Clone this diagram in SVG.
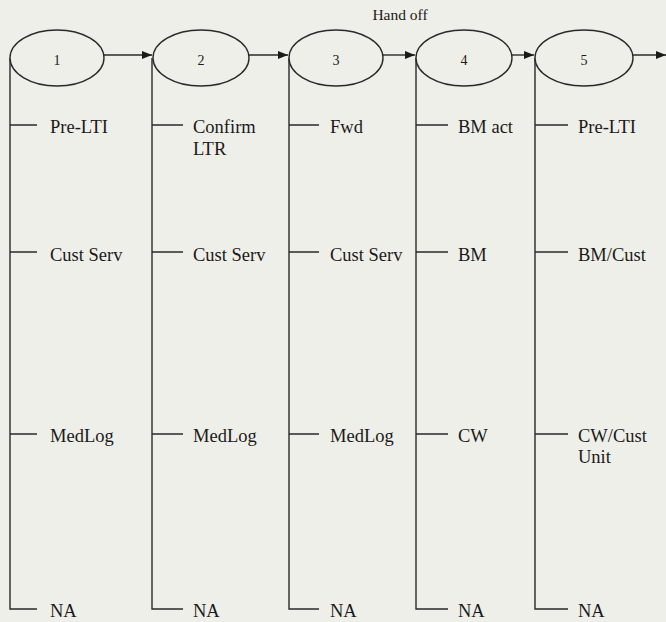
<svg xmlns="http://www.w3.org/2000/svg" width="666" height="622" viewBox="0 0 666 622">
<style>
.ln{stroke:#2a2a2a;stroke-width:1.4;fill:none}
.el{stroke:#2a2a2a;stroke-width:1.4;fill:#efefe9}
.t{font-family:"Liberation Serif","Times New Roman",serif;font-size:18.5px;fill:#1a1a1a}
.n{font-family:"Liberation Serif","Times New Roman",serif;font-size:14px;fill:#1a1a1a;text-anchor:middle}
.h{font-family:"Liberation Serif","Times New Roman",serif;font-size:15.5px;fill:#1a1a1a;text-anchor:middle}
</style>
<defs>
<marker id="ah" markerWidth="10" markerHeight="8" refX="10" refY="4" orient="auto" markerUnits="userSpaceOnUse">
<path d="M0,0 L10,4 L0,8 Z" fill="#1a1a1a"/>
</marker>
</defs>
<rect width="666" height="622" fill="#efefe9"/>
<text class="h" x="400" y="20">Hand off</text>
<g id="connectors">
<line class="ln" x1="104" y1="55" x2="152" y2="55" marker-end="url(#ah)"/>
<line class="ln" x1="249" y1="55" x2="288" y2="55" marker-end="url(#ah)"/>
<line class="ln" x1="383" y1="55" x2="415" y2="55" marker-end="url(#ah)"/>
<line class="ln" x1="512" y1="55" x2="534" y2="55" marker-end="url(#ah)"/>
<line class="ln" x1="633" y1="55" x2="666" y2="55" marker-end="url(#ah)"/>
</g>
<g id="node1">
<path class="ln" d="M10,58 V609 H37 M10,125 H37 M10,252 H37 M10,434 H37"/>
<ellipse class="el" cx="57" cy="58" rx="47" ry="28"/>
<text class="n" x="57" y="65">1</text>
<text class="t" x="50" y="133">Pre-LTI</text>
<text class="t" x="50" y="261">Cust Serv</text>
<text class="t" x="50" y="442">MedLog</text>
<text class="t" x="50" y="617">NA</text>
</g>
<g id="node2">
<path class="ln" d="M152,58 V609 H183 M152,125 H183 M152,252 H183 M152,434 H183"/>
<ellipse class="el" cx="201" cy="58" rx="48" ry="28"/>
<text class="n" x="201" y="65">2</text>
<text class="t" x="193" y="133">Confirm</text>
<text class="t" x="193" y="155">LTR</text>
<text class="t" x="193" y="261">Cust Serv</text>
<text class="t" x="193" y="442">MedLog</text>
<text class="t" x="193" y="617">NA</text>
</g>
<g id="node3">
<path class="ln" d="M289,58 V609 H319 M289,125 H319 M289,252 H319 M289,434 H319"/>
<ellipse class="el" cx="336" cy="58" rx="47" ry="28"/>
<text class="n" x="336" y="65">3</text>
<text class="t" x="330" y="133">Fwd</text>
<text class="t" x="330" y="261">Cust Serv</text>
<text class="t" x="330" y="442">MedLog</text>
<text class="t" x="330" y="617">NA</text>
</g>
<g id="node4">
<path class="ln" d="M416,58 V609 H448 M416,125 H448 M416,252 H448 M416,434 H448"/>
<ellipse class="el" cx="464" cy="58" rx="48" ry="28"/>
<text class="n" x="464" y="65">4</text>
<text class="t" x="458" y="133">BM act</text>
<text class="t" x="458" y="261">BM</text>
<text class="t" x="458" y="442">CW</text>
<text class="t" x="458" y="617">NA</text>
</g>
<g id="node5">
<path class="ln" d="M535,58 V609 H568 M535,125 H568 M535,252 H568 M535,434 H568"/>
<ellipse class="el" cx="584" cy="58" rx="49" ry="28"/>
<text class="n" x="584" y="65">5</text>
<text class="t" x="578" y="133">Pre-LTI</text>
<text class="t" x="578" y="261">BM/Cust</text>
<text class="t" x="578" y="442">CW/Cust</text>
<text class="t" x="578" y="463">Unit</text>
<text class="t" x="578" y="617">NA</text>
</g>
</svg>
